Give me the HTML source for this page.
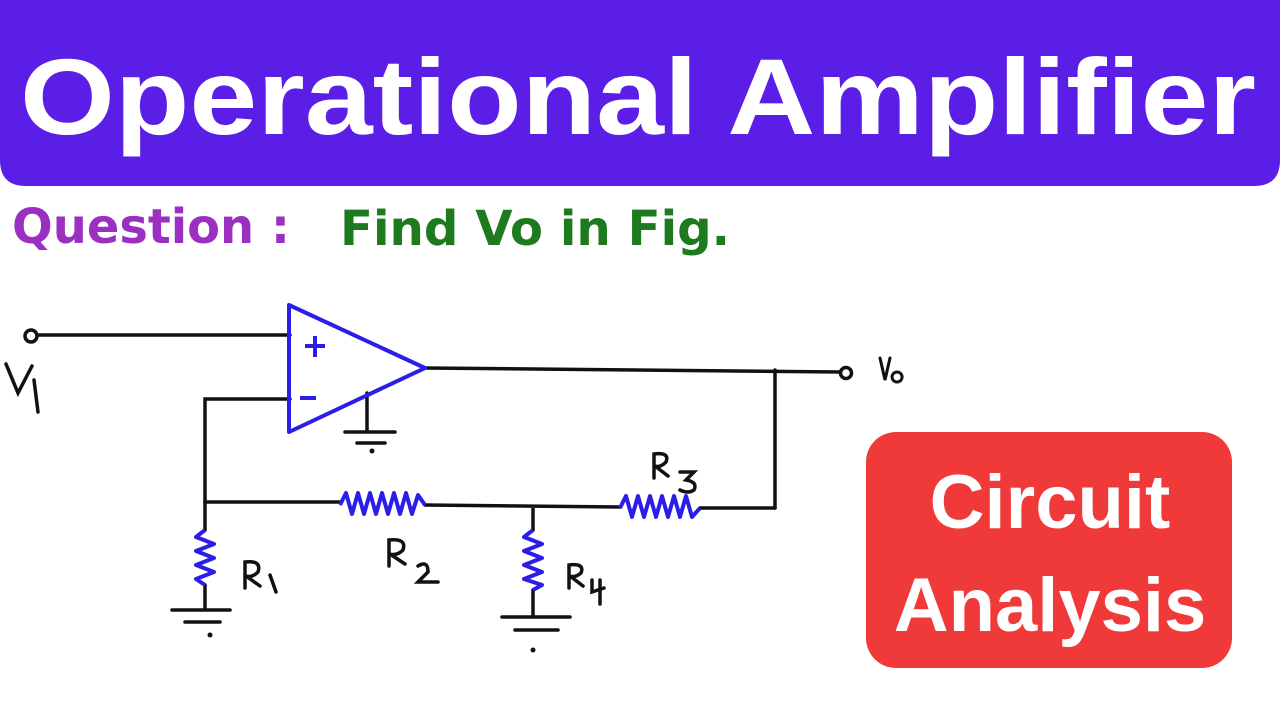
<!DOCTYPE html>
<html><head><meta charset="utf-8"><style>
html,body{margin:0;padding:0;background:#fff;width:1280px;height:720px;overflow:hidden}
</style></head><body>
<svg width="1280" height="720" viewBox="0 0 1280 720" xmlns="http://www.w3.org/2000/svg">
<path d="M0 0H1280V160Q1280 186 1254 186H26Q0 186 0 160Z" fill="#5a1ee6"/>
<text x="638" y="134" text-anchor="middle" font-family="Liberation Sans, sans-serif" font-weight="bold" font-size="108" fill="#fff" textLength="1236" lengthAdjust="spacingAndGlyphs">Operational Amplifier</text>
<text x="12" y="243" font-family="Comic Sans MS, DejaVu Sans, sans-serif" font-weight="bold" font-size="48" fill="#9a2fc2" textLength="278" lengthAdjust="spacingAndGlyphs">Question :</text>
<text x="340" y="245" font-family="Comic Sans MS, DejaVu Sans, sans-serif" font-weight="bold" font-size="48" fill="#1e7a1e" textLength="390" lengthAdjust="spacingAndGlyphs">Find Vo in Fig.</text>
<g stroke="#111" stroke-width="3.5" fill="none" stroke-linecap="round">
<circle cx="31" cy="336" r="6"/>
<path d="M37 335H290"/>
<path d="M425 368L840 372"/>
<circle cx="846" cy="373" r="5.5"/>
<path d="M775 370V508"/>
<path d="M290 399H205V502H340"/>
<path d="M367 393V432M345 432H395M357 443H385"/>
<path d="M425 505L620 507M533 507V530M700 508H775"/>
<path d="M205 502V530M205 585V608M172 610H230M185 622H220"/>
<path d="M533 590V615M502 617H570M515 630H558"/>
<path d="M6 364L18 393L32 366M34 380L38 412" stroke-width="3.5"/>
<path d="M880 358L885 380L890 358M897 372a5 5 0 1 0 0.1 0" stroke-width="3"/>
</g>
<circle cx="210" cy="635" r="2.5" fill="#111"/><circle cx="533" cy="650" r="2.5" fill="#111"/><circle cx="372" cy="451" r="2.5" fill="#111"/>
<g stroke="#2a1ee8" stroke-width="4" fill="none" stroke-linejoin="round">
<path d="M289 305V432L425 368Z"/>
<path d="M305 346H325M315 336V357M300 398H316"/>
<path d="M340 505L346 493L352 514L358 493L364 514L370 493L376 514L382 493L388 514L394 493L400 514L406 493L412 514L418 495L425 505"/>
<path d="M620 508L626 496L632 517L638 496L644 517L650 496L656 517L662 496L668 517L674 496L680 517L686 496L692 517L700 508"/>
<path d="M205 530L196 537L214 544L196 551L214 558L196 565L214 572L196 579L205 585"/>
<path d="M533 530L524 537L542 544L524 551L542 558L524 565L542 572L524 579L542 585L533 590"/>
</g>
<g stroke="#111" stroke-width="3.5" fill="none" stroke-linecap="round">
<path d="M245 588V562Q262 560 258 572Q252 578 246 576L260 586M270 575L276 592"/>
<path d="M389 566V540Q407 538 403 550Q397 556 390 554L405 564M418 566Q428 560 428 572L418 582H438"/>
<path d="M569 588V565Q585 563 581 573Q575 578 570 576L583 586M592 580L592 592L604 588M600 580V604"/>
<path d="M654 478V454Q670 452 666 462Q660 468 655 466L668 476M680 472H694L686 480Q698 482 694 490Q688 494 680 490"/>
</g>
<rect x="866" y="432" width="366" height="236" rx="30" fill="#f03a3a"/>
<text x="1050" y="528" text-anchor="middle" font-family="Liberation Sans, sans-serif" font-weight="bold" font-size="76" fill="#fff">Circuit</text>
<text x="1050" y="631" text-anchor="middle" font-family="Liberation Sans, sans-serif" font-weight="bold" font-size="76" fill="#fff">Analysis</text>
</svg>
</body></html>
